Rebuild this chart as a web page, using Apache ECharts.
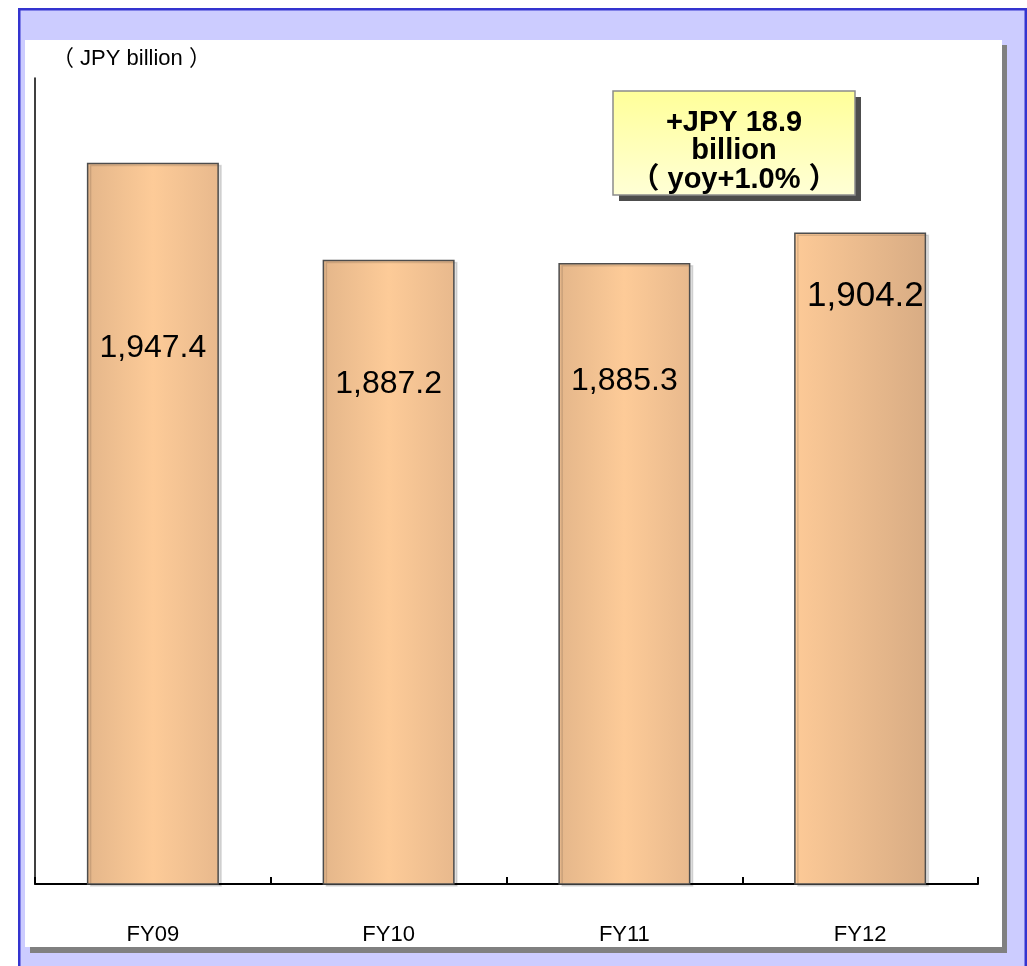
<!DOCTYPE html>
<html>
<head>
<meta charset="utf-8">
<script src="https://cdn.jsdelivr.net/npm/echarts@6/dist/echarts.min.js"></script>
<style>
  html, body { margin: 0; padding: 0; background: #ffffff; }
  #chart { width: 1027px; height: 966px; }
</style>
</head>
<body>
<div id="chart"></div>
<script>
// Net sales by fiscal year (JPY billion)
const categories = ['FY09', 'FY10', 'FY11', 'FY12'];
const values = [1947.4, 1887.2, 1885.3, 1904.2];
const valueLabels = ['1,947.4', '1,887.2', '1,885.3', '1,904.2'];
const unitText = '（ JPY billion ）';
const calloutLines = ['+JPY 18.9', 'billion', '（ yoy+1.0% ）'];

const FONT = "'Liberation Sans', Arial, 'Noto Sans CJK JP', sans-serif";

// Bar fill: vertical highlight stripe for past years, one-sided shading for latest year
function stripeFill() {
  return new echarts.graphic.LinearGradient(0, 0, 1, 0, [
    { offset: 0, color: '#e4b68a' },
    { offset: 0.5, color: '#fdcb98' },
    { offset: 1, color: '#e8b98d' }
  ]);
}
function sideFill() {
  return new echarts.graphic.LinearGradient(0, 0, 1, 0, [
    { offset: 0, color: '#fdca97' },
    { offset: 1, color: '#d8ac84' }
  ]);
}
// label placement inside each bar (distance of label centre below bar top)
const labelDrop = [185, 124, 118, 64];

const seriesData = values.map((v, i) => {
  const latest = i === values.length - 1;
  return {
    value: v,
    itemStyle: { color: latest ? sideFill() : stripeFill() },
    label: {
      formatter: valueLabels[i],
      position: [latest ? '54%' : '50%', labelDrop[i]],
      fontSize: latest ? 35 : 32,
      color: '#000000'
    }
  };
});

const chart = echarts.init(document.getElementById('chart'), null, { renderer: 'canvas' });

chart.setOption({
  animation: false,
  backgroundColor: '#ffffff',
  textStyle: { fontFamily: FONT },
  grid: { left: 35, right: 49, top: 78, bottom: 82, containLabel: false },
  xAxis: {
    type: 'category',
    data: categories,
    axisLine: { lineStyle: { color: '#000000', width: 2 } },
    axisTick: { show: true, inside: true, length: 7, lineStyle: { color: '#000000', width: 2 } },
    axisLabel: { color: '#000000', fontSize: 22, margin: 40, fontFamily: FONT }
  },
  yAxis: {
    type: 'value',
    min: 1500,
    max: 2000,
    interval: 500,
    axisLine: { show: true, lineStyle: { color: '#000000', width: 1.5 } },
    axisTick: { show: false },
    axisLabel: { show: false },
    splitLine: { show: false }
  },
  series: [{
    type: 'bar',
    data: seriesData,
    barWidth: 132,
    itemStyle: {
      borderColor: '#4d4d4d',
      borderWidth: 1.5,
      shadowColor: 'rgba(0,0,0,0.12)',
      shadowOffsetX: 3,
      shadowOffsetY: 2,
      shadowBlur: 0
    },
    label: {
      show: true,
      align: 'center',
      verticalAlign: 'middle',
      fontFamily: FONT
    }
  }],
  graphic: [
    // frame: lavender band with blue rule
    {
      type: 'rect', z: -30, silent: true,
      shape: { x: 19.25, y: 9.25, width: 1006.5, height: 980 },
      style: { fill: '#ccccff', stroke: '#3434cf', lineWidth: 2.5 }
    },
    // panel drop shadow
    {
      type: 'rect', z: -20, silent: true,
      shape: { x: 30, y: 45, width: 977, height: 908 },
      style: { fill: '#808080' }
    },
    // white panel
    {
      type: 'rect', z: -10, silent: true,
      shape: { x: 25, y: 40, width: 977, height: 907 },
      style: { fill: '#ffffff' }
    },
    // unit caption
    {
      type: 'text', z: 5, silent: true,
      style: {
        x: 52, y: 59, text: unitText,
        font: '22px ' + FONT, fill: '#000000',
        verticalAlign: 'middle', align: 'left'
      }
    },
    // year-on-year callout
    {
      type: 'group', z: 20,
      children: [
        {
          type: 'rect', silent: true,
          shape: { x: 619, y: 97, width: 242, height: 104 },
          style: { fill: '#4d4d4d' }
        },
        {
          type: 'rect', silent: true,
          shape: { x: 613, y: 91, width: 242, height: 104 },
          style: {
            fill: new echarts.graphic.LinearGradient(0, 0, 0, 1, [
              { offset: 0, color: '#ffff99' },
              { offset: 1, color: '#ffffd6' }
            ]),
            stroke: '#8c8c8c', lineWidth: 1.5
          }
        },
        {
          type: 'text', silent: true,
          style: {
            x: 734, y: 123, text: calloutLines[0],
            font: 'bold 29px ' + FONT, fill: '#000000',
            align: 'center', verticalAlign: 'middle'
          }
        },
        {
          type: 'text', silent: true,
          style: {
            x: 734, y: 151, text: calloutLines[1],
            font: 'bold 29px ' + FONT, fill: '#000000',
            align: 'center', verticalAlign: 'middle'
          }
        },
        {
          type: 'text', silent: true,
          style: {
            x: 734, y: 180, text: calloutLines[2],
            font: 'bold 29px ' + FONT, fill: '#000000',
            align: 'center', verticalAlign: 'middle'
          }
        }
      ]
    }
  ]
});
</script>
</body>
</html>
